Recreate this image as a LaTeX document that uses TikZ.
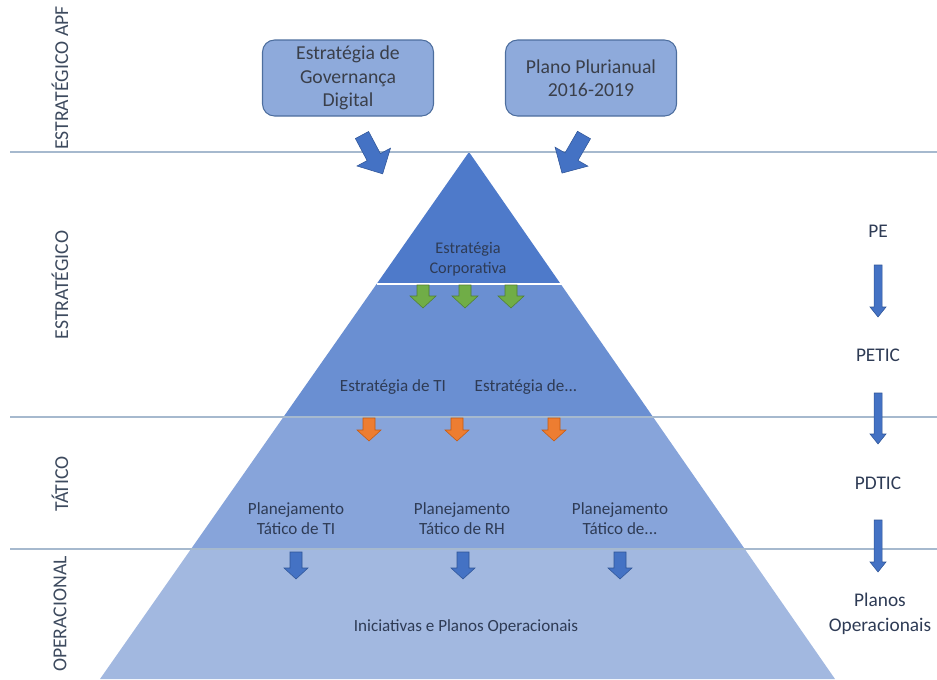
\documentclass[tikz,border=0pt]{standalone}
\usepackage{fontspec}
\setmainfont{Carlito}
\begin{document}
\begin{tikzpicture}[x=0.75pt,y=-0.75pt,
  txt/.style={text=textdark,font=#1,align=center,inner sep=1pt},
  txt/.default=\fontsize{12.8}{15}\selectfont,
  sidelabel/.style={text=sidegray,font=\fontsize{14.8}{17}\selectfont,rotate=90,inner sep=0pt},
  topbox/.style={draw=boxedge,fill=boxfill,rounded corners=9pt,line width=0.8pt,
    minimum width=128.25pt,minimum height=57pt,align=center,text=boxtext,
    font=\fontsize{14.8}{17.5}\selectfont},
  chain/.style={txt=\fontsize{14.5}{19}\selectfont},
  levelline/.style={draw=linegray,line width=1.1pt},
  bluearr/.style={fill=arrblue,draw=arrblueedge,line width=0.4pt},
  greenarr/.style={fill=arrgreen,draw=arrgreenedge,line width=0.4pt},
  orangearr/.style={fill=arrorange,draw=arrorangeedge,line width=0.4pt}]

\definecolor{layerA}{HTML}{4E7ACA}
\definecolor{layerB}{HTML}{6A8FD2}
\definecolor{layerC}{HTML}{87A4DA}
\definecolor{layerD}{HTML}{A2B8E0}
\definecolor{linegray}{HTML}{A6B9CE}
\definecolor{boxfill}{HTML}{8EAADB}
\definecolor{boxedge}{HTML}{4D6E9E}
\definecolor{boxtext}{HTML}{3A3F4A}
\definecolor{textdark}{HTML}{2E3B55}
\definecolor{sidegray}{HTML}{3D4A5E}
\definecolor{arrblue}{HTML}{4472C4}
\definecolor{arrblueedge}{HTML}{2F5597}
\definecolor{arrgreen}{HTML}{70AD47}
\definecolor{arrgreenedge}{HTML}{507E32}
\definecolor{arrorange}{HTML}{ED7D31}
\definecolor{arrorangeedge}{HTML}{C55A11}

% down-pointing block arrow: style, x, top y, tip y, body half width, head half width, head length
\newcommand\downblock[7]{%
  \path[#1] ({#2-#5},#3) -- ({#2+#5},#3) -- ({#2+#5},{#4-#7}) -- ({#2+#6},{#4-#7})
    -- (#2,#4) -- ({#2-#6},{#4-#7}) -- ({#2-#5},{#4-#7}) -- cycle;}

\useasboundingbox (0,0) rectangle (937,679);

% pyramid layers
\begin{scope}
  \clip (469,152) -- (835,679) -- (100,679) -- cycle;
  \fill[layerA] (0,150) rectangle (937,284);
  \fill[layerB] (0,284) rectangle (937,417);
  \fill[layerC] (0,417) rectangle (937,549);
  \fill[layerD] (0,549) rectangle (937,680);
\end{scope}
\draw[white,line width=1.5pt] (377,284) -- (562,284);

% level separators
\draw[levelline] (10,152) -- (937,152);
\draw[levelline] (10,417) -- (937,417);
\draw[levelline] (10,549) -- (937,549);

% level names
\node[sidelabel] (lvlapf) at (60,78) {ESTRATÉGICO APF};
\node[sidelabel] (lvlest) at (60,285) {ESTRATÉGICO};
\node[sidelabel] (lvltat) at (60,484) {TÁTICO};
\node[sidelabel] (lvlop) at (60,614) {OPERACIONAL};

% external inputs
\node[topbox] (egd) at (348,78) {Estratégia de\\Governança\\Digital};
\node[topbox] (ppa) at (591,78) {Plano Plurianual\\2016-2019};

\begin{scope}[shift={(362,135)},rotate=28]
  \downblock{bluearr}{0}{0}{44}{7.5}{19}{19}
\end{scope}
\begin{scope}[shift={(584,135)},rotate=-30]
  \downblock{bluearr}{0}{0}{44}{7.5}{19}{19}
\end{scope}

% pyramid contents
\node[txt=\fontsize{12.2}{15}\selectfont] (corp) at (468,259) {Estratégia\\Corporativa};
\downblock{greenarr}{423}{285}{308}{6}{13}{12}
\downblock{greenarr}{465}{285}{308}{6}{13}{12}
\downblock{greenarr}{511}{285}{308}{6}{13}{12}

\node[txt] (estti) at (393,387) {Estratégia de TI};
\node[txt] (estout) at (526,387) {Estratégia de...};
\downblock{orangearr}{369}{418}{441}{6}{12}{11}
\downblock{orangearr}{457}{418}{441}{6}{12}{11}
\downblock{orangearr}{554}{418}{441}{6}{12}{11}

\node[txt] (ptti) at (296,519) {Planejamento\\Tático de TI};
\node[txt] (ptrh) at (462,519) {Planejamento\\Tático de RH};
\node[txt] (ptout) at (620,519) {Planejamento\\Tático de...};
\downblock{bluearr}{296}{552}{579}{6}{12}{11}
\downblock{bluearr}{463}{552}{579}{6}{12}{11}
\downblock{bluearr}{620}{552}{579}{6}{12}{11}

\node[txt] (iniciativas) at (466,627) {Iniciativas e Planos Operacionais};

% document chain
\node[chain] (pe) at (878,231) {PE};
\node[chain] (petic) at (878,355) {PETIC};
\node[chain] (pdtic) at (878,483) {PDTIC};
\node[chain] (planos) at (880,614) {Planos\\Operacionais};
\downblock{bluearr}{878}{265}{317}{4}{8}{10}
\downblock{bluearr}{878}{393}{444}{4}{8}{10}
\downblock{bluearr}{878}{520}{572}{4}{8}{10}
\end{tikzpicture}
\end{document}
